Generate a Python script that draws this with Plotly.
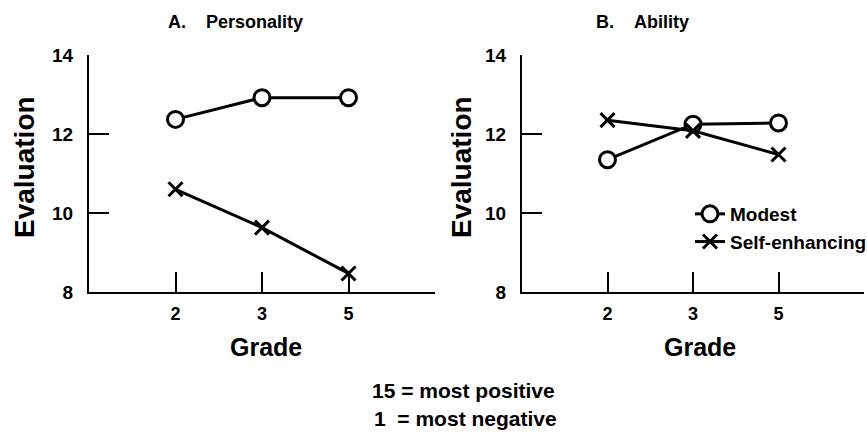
import plotly.graph_objects as go

grades = ["2", "3", "5"]
personality_modest = [12.37, 12.92, 12.92]
personality_self = [10.60, 9.63, 8.47]
ability_modest = [11.35, 12.25, 12.28]
ability_self = [12.35, 12.08, 11.48]
y_ticks = [8, 10, 12, 14]

W, H = 867, 432
FONT = "Liberation Sans, Arial, Helvetica, sans-serif"
xpos = list(range(1, len(grades) + 1))

def px(x):
    return x / W

def py(y):
    return (H - y) / H

fig = go.Figure()

def add_pair(modest, selfenh, xa, ya, show):
    fig.add_trace(go.Scatter(
        x=xpos, y=modest, mode="lines+markers", name="Modest",
        xaxis=xa, yaxis=ya, showlegend=show,
        line=dict(color="black", width=3),
        marker=dict(symbol="circle", size=16, color="white",
                    line=dict(color="black", width=3)),
    ))
    fig.add_trace(go.Scatter(
        x=xpos, y=selfenh, mode="lines+markers", name="Self-enhancing",
        xaxis=xa, yaxis=ya, showlegend=show,
        line=dict(color="black", width=3),
        marker=dict(symbol="x-thin", size=14, color="black",
                    line=dict(color="black", width=3)),
    ))

add_pair(personality_modest, personality_self, "x", "y", False)
add_pair(ability_modest, ability_self, "x2", "y2", True)

xaxis_common = dict(
    range=[0, 4], tickvals=[1, 2, 3, 4], ticktext=grades + [""],
    ticks="inside", ticklen=20, tickwidth=2, tickcolor="black",
    showline=True, linewidth=2, linecolor="black",
    showgrid=False, zeroline=False, automargin=False,
    tickfont=dict(family=FONT, size=18, color="black", weight="bold"),
    ticklabelstandoff=4,
)
yaxis_common = dict(
    range=[8, 14], tickvals=y_ticks,
    ticks="inside", ticklen=20, tickwidth=2, tickcolor="black",
    showline=True, linewidth=2, linecolor="black",
    showgrid=False, zeroline=False, automargin=False,
    tickfont=dict(family=FONT, size=19, color="black", weight="bold"),
    ticklabelstandoff=10,
)

fig.update_layout(
    width=W, height=H,
    margin=dict(l=0, r=0, t=0, b=0, autoexpand=False),
    paper_bgcolor="white", plot_bgcolor="white",
    xaxis=dict(domain=[px(89), px(435)], anchor="y", **xaxis_common),
    yaxis=dict(domain=[py(292), py(55)], anchor="x", **yaxis_common),
    xaxis2=dict(domain=[px(522), px(864)], anchor="y2", **xaxis_common),
    yaxis2=dict(domain=[py(292), py(55)], anchor="x2", **yaxis_common),
    legend=dict(
        x=px(690), y=py(195), xanchor="left", yanchor="top",
        bgcolor="rgba(0,0,0,0)", borderwidth=0,
        font=dict(family=FONT, size=19, color="black", weight="bold"),
        tracegroupgap=0,
    ),
)

def note(text, x, y, size, angle=0):
    fig.add_annotation(
        text=text, x=px(x), y=py(y), xref="paper", yref="paper",
        showarrow=False, textangle=angle, xanchor="center", yanchor="middle",
        font=dict(family=FONT, size=size, color="black", weight="bold"),
    )

note("A.\u00a0\u00a0\u00a0\u00a0Personality", 235, 22, 18)
note("B.\u00a0\u00a0\u00a0\u00a0Ability", 642, 22, 18)
note("Evaluation", 24, 167, 28, angle=-90)
note("Evaluation", 461, 167, 28, angle=-90)
note("Grade", 266, 347, 25)
note("Grade", 700, 347, 25)
note("15 = most positive", 464, 390, 21)
note("1\u00a0\u00a0= most negative", 465, 418, 21)

fig.write_html(
    "out.html",
    config={"displayModeBar": False},
    post_script="document.body.style.margin='0';document.body.style.padding='0';"
                "document.documentElement.style.overflow='hidden';",
)
